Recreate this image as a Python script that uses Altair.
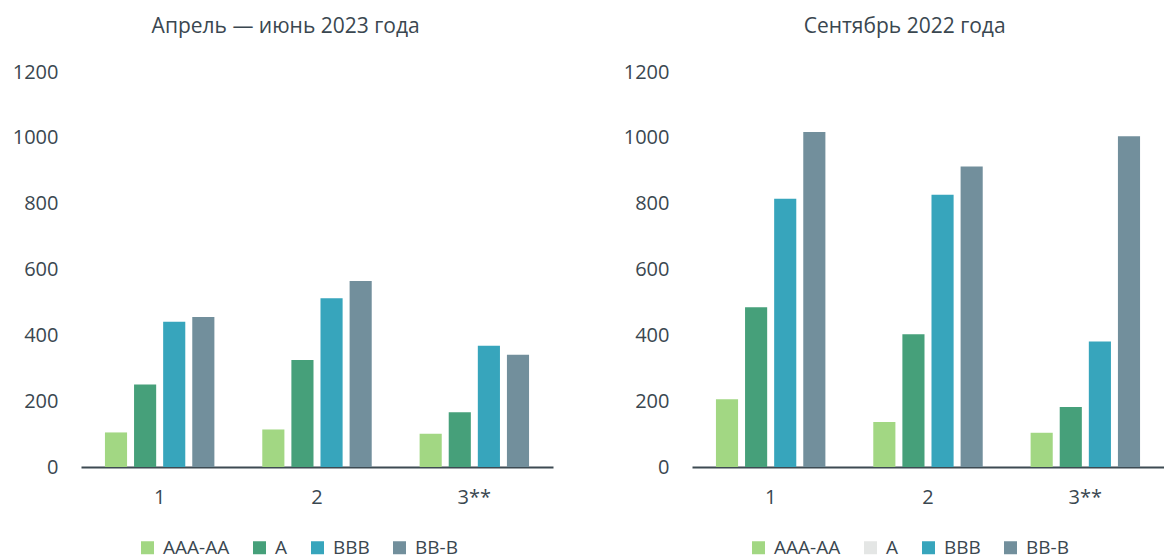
import altair as alt
import pandas as pd

groups = ["1", "2", "3**"]
ratings = ["AAA-AA", "A", "BBB", "BB-B"]
bar_colors = ["#a2d783", "#46a07a", "#37a5bc", "#728f9c"]
left_legend_colors = ["#a2d783", "#46a07a", "#37a5bc", "#728f9c"]
right_legend_colors = ["#a2d783", "#e4e6e5", "#37a5bc", "#728f9c"]

left_title = "Апрель — июнь 2023 года"
left_aaa_aa = [105, 114, 101]
left_a = [251, 325, 166]
left_bbb = [441, 513, 368]
left_bb_b = [456, 565, 341]

right_title = "Сентябрь 2022 года"
right_aaa_aa = [206, 137, 104]
right_a = [485, 403, 182]
right_bbb = [815, 827, 381]
right_bb_b = [1018, 913, 1005]

y_ticks = [0, 200, 400, 600, 800, 1000, 1200]

FONT = "Open Sans"
TEXT = "#3a4750"


def frame(series):
    rows = []
    for r, vals in zip(ratings, series):
        for g, v in zip(groups, vals):
            rows.append({"group": g, "rating": r, "legend_rating": r, "value": v})
    return pd.DataFrame(rows)


def panel(df, title, legend_colors, title_dx):
    base = alt.Chart(df)
    bars = base.mark_bar().encode(
        x=alt.X(
            "group:N", sort=groups, title=None,
            scale=alt.Scale(paddingInner=0.26, paddingOuter=0.13),
            axis=alt.Axis(labelAngle=0, ticks=False, domainColor="#3d4a52", domainWidth=2,
                          labelPadding=20, labelFontSize=20, labelColor=TEXT, labelFont=FONT,
                          grid=False),
        ),
        xOffset=alt.XOffset("rating:N", sort=ratings,
                            scale=alt.Scale(paddingInner=0.24, paddingOuter=0.12)),
        y=alt.Y(
            "value:Q", title=None, scale=alt.Scale(domain=[0, 1200], nice=False),
            axis=alt.Axis(values=y_ticks, format="d", domain=False, ticks=False, grid=False,
                          labelPadding=23, labelFontSize=20, labelColor=TEXT, labelFont=FONT),
        ),
        color=alt.Color("rating:N", sort=ratings,
                        scale=alt.Scale(domain=ratings, range=bar_colors), legend=None),
    )
    leg = base.mark_square(opacity=0).encode(
        color=alt.Color(
            "legend_rating:N", sort=ratings,
            scale=alt.Scale(domain=ratings, range=legend_colors),
            legend=alt.Legend(orient="none", legendX=57, legendY=466, direction="horizontal",
                              columns=4, title=None, symbolType="square", symbolSize=169,
                              symbolOpacity=1, symbolStrokeWidth=0, labelFontSize=19,
                              labelColor=TEXT, labelFont=FONT, columnPadding=20, labelOffset=6),
        )
    )
    return alt.layer(bars, leg).resolve_scale(color="independent").properties(
        width=472, height=395,
        title=alt.TitleParams(title, fontSize=21, font=FONT, color=TEXT, fontWeight="normal",
                              anchor="middle", frame="bounds", offset=25, dx=title_dx),
    )


left = panel(frame([left_aaa_aa, left_a, left_bbb, left_bb_b]), left_title, left_legend_colors, 3)
right = panel(frame([right_aaa_aa, right_a, right_bbb, right_bb_b]), right_title, right_legend_colors, 11)

chart = alt.hconcat(left, right, spacing=70).resolve_scale(color="independent").properties(
    padding={"left": 12, "top": 16, "right": 0, "bottom": 50}
).configure_view(stroke=None)

chart.save("out.html", embed_options={"renderer": "svg", "actions": False})
